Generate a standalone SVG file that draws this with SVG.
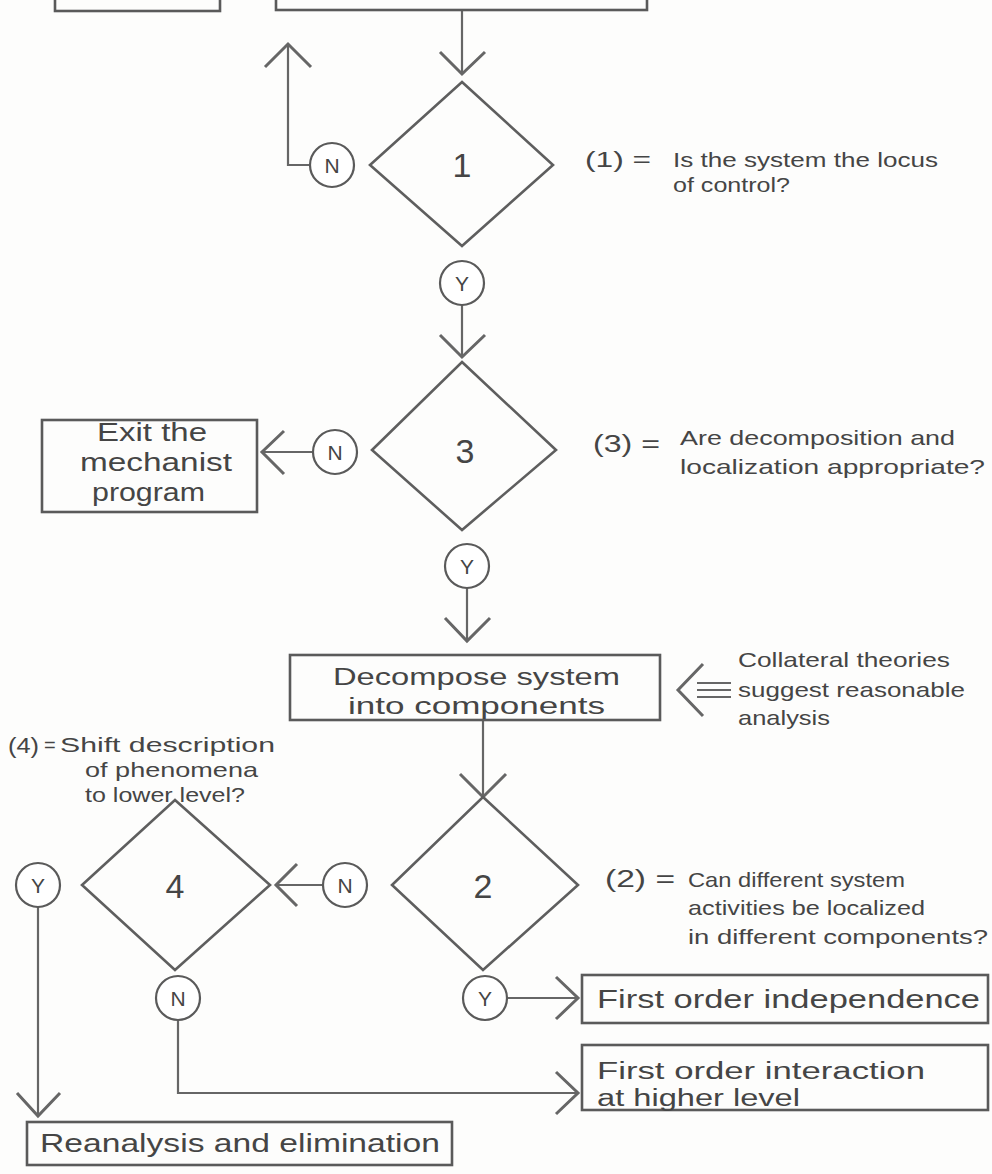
<svg xmlns="http://www.w3.org/2000/svg" width="992" height="1174" viewBox="0 0 992 1174">
<style>
.bg{fill:#fdfdfc}
.box{fill:none;stroke:#5a5a5a;stroke-width:2.6}
.dia{fill:none;stroke:#5e5e5e;stroke-width:2.6}
.circ{fill:#fff;stroke:#5a5a5a;stroke-width:2.2}
.ln{fill:none;stroke:#666;stroke-width:2.2}
.chev{fill:none;stroke:#666;stroke-width:3}
text{font-family:"Liberation Sans",Arial,sans-serif;fill:#454545}
.big{font-size:25px}
.lab{font-size:21px}
.num{font-size:34px;text-anchor:middle}
.yn{font-size:21px;text-anchor:middle}
</style>
<rect class="bg" x="0" y="0" width="992" height="1174"/>

<g id="connectors">
  <path class="ln" d="M462 11 V73"/>
  <path class="chev" d="M440 52 L462 74 L485 52"/>
  <path class="ln" d="M310 165 H288 V44"/>
  <path class="chev" d="M265 67 L288 44 L311 67"/>
  <path class="ln" d="M462 305 V356"/>
  <path class="chev" d="M440 335 L462 357 L485 335"/>
  <path class="ln" d="M313 452 H262"/>
  <path class="chev" d="M284 431 L262 452 L284 474"/>
  <path class="ln" d="M467 588 V640"/>
  <path class="chev" d="M445 618 L467 641 L490 618"/>
  <path class="chev" d="M703 664 L678 690 L703 716"/>
  <path class="ln" d="M697 683 H731 M697 690 H731 M697 697 H731"/>
  <path class="ln" d="M483 720 V795"/>
  <path class="chev" d="M460 774 L483 797 L506 774"/>
  <path class="ln" d="M323 885 H276"/>
  <path class="chev" d="M297 864 L276 885 L297 906"/>
  <path class="ln" d="M38 907 V1115"/>
  <path class="chev" d="M17 1093 L38 1116 L60 1093"/>
  <path class="ln" d="M178 1020 V1093 H577"/>
  <path class="chev" d="M556 1072 L578 1093 L556 1114"/>
  <path class="ln" d="M507 998 H577"/>
  <path class="chev" d="M556 977 L578 998 L556 1019"/>
</g>

<g id="top-left-box"><rect class="box" x="55" y="-20" width="165" height="31"/></g>
<g id="top-right-box"><rect class="box" x="276" y="-20" width="371" height="30"/></g>

<g id="diamond1">
  <polygon class="dia" points="462,82 553,165 462,246 370,165"/>
  <text class="num" x="462" y="177">1</text>
</g>
<g id="n1"><circle class="circ" cx="332" cy="165" r="22"/><text class="yn" x="332" y="173">N</text></g>
<g id="y1"><circle class="circ" cx="462" cy="283" r="22"/><text class="yn" x="462" y="291">Y</text></g>
<g id="note1">
  <text x="585" y="167" style="font-size:22px" textLength="66" lengthAdjust="spacingAndGlyphs">(1) =</text>
  <text x="673" y="167" style="font-size:20px" textLength="265" lengthAdjust="spacingAndGlyphs">Is the system the locus</text>
  <text x="673" y="192" style="font-size:20px" textLength="117" lengthAdjust="spacingAndGlyphs">of control?</text>
</g>

<g id="diamond3">
  <polygon class="dia" points="462,362 556,450 462,530 372,450"/>
  <text class="num" x="465" y="463">3</text>
</g>
<g id="n3"><circle class="circ" cx="335" cy="452" r="22"/><text class="yn" x="335" y="460">N</text></g>
<g id="y3"><circle class="circ" cx="467" cy="566" r="22"/><text class="yn" x="467" y="574">Y</text></g>
<g id="exit">
  <rect class="box" x="42" y="420" width="215" height="92"/>
  <text class="big" x="97" y="441" textLength="110" lengthAdjust="spacingAndGlyphs">Exit the</text>
  <text class="big" x="80" y="471" textLength="152" lengthAdjust="spacingAndGlyphs">mechanist</text>
  <text class="big" x="92" y="501" textLength="113" lengthAdjust="spacingAndGlyphs">program</text>
</g>
<g id="note3">
  <text x="593" y="452" style="font-size:23px" textLength="67" lengthAdjust="spacingAndGlyphs">(3) =</text>
  <text class="lab" x="680" y="445" textLength="275" lengthAdjust="spacingAndGlyphs">Are decomposition and</text>
  <text class="lab" x="680" y="474" textLength="305" lengthAdjust="spacingAndGlyphs">localization appropriate?</text>
</g>

<g id="decompose">
  <rect class="box" x="290" y="655" width="370" height="65"/>
  <text x="333" y="685" style="font-size:24px" textLength="287" lengthAdjust="spacingAndGlyphs">Decompose system</text>
  <text x="348" y="714" style="font-size:24px" textLength="257" lengthAdjust="spacingAndGlyphs">into components</text>
</g>
<g id="collateral">
  <text class="lab" x="738" y="667" textLength="212" lengthAdjust="spacingAndGlyphs">Collateral theories</text>
  <text class="lab" x="738" y="697" textLength="227" lengthAdjust="spacingAndGlyphs">suggest reasonable</text>
  <text class="lab" x="738" y="725" textLength="92" lengthAdjust="spacingAndGlyphs">analysis</text>
</g>
<g id="note4">
  <text x="8" y="753" style="font-size:22px" textLength="31" lengthAdjust="spacingAndGlyphs">(4)</text>
  <text x="44" y="752" style="font-size:20px">=</text>
  <text class="lab" x="60" y="752" textLength="215" lengthAdjust="spacingAndGlyphs">Shift description</text>
  <text class="lab" x="85" y="777" textLength="173" lengthAdjust="spacingAndGlyphs">of phenomena</text>
  <text class="lab" x="85" y="802" textLength="160" lengthAdjust="spacingAndGlyphs">to lower level?</text>
</g>

<g id="diamond2">
  <polygon class="dia" points="483,797 578,885 483,970 392,885"/>
  <text class="num" x="483" y="898">2</text>
</g>
<g id="n2"><circle class="circ" cx="345" cy="885" r="22"/><text class="yn" x="345" y="893">N</text></g>
<g id="y2"><circle class="circ" cx="485" cy="998" r="22"/><text class="yn" x="485" y="1006">Y</text></g>
<g id="note2">
  <text x="605" y="887" style="font-size:23px" textLength="70" lengthAdjust="spacingAndGlyphs">(2) =</text>
  <text class="lab" x="688" y="887" textLength="217" lengthAdjust="spacingAndGlyphs">Can different system</text>
  <text class="lab" x="688" y="915" textLength="237" lengthAdjust="spacingAndGlyphs">activities be localized</text>
  <text class="lab" x="688" y="944" textLength="300" lengthAdjust="spacingAndGlyphs">in different components?</text>
</g>

<g id="diamond4">
  <polygon class="dia" points="175,800 270,885 175,970 82,885"/>
  <text class="num" x="175" y="898">4</text>
</g>
<g id="y4"><circle class="circ" cx="38" cy="885" r="22"/><text class="yn" x="38" y="893">Y</text></g>
<g id="n4"><circle class="circ" cx="178" cy="998" r="22"/><text class="yn" x="178" y="1006">N</text></g>

<g id="independence">
  <rect class="box" x="582" y="975" width="406" height="48"/>
  <text x="597" y="1008" style="font-size:26px" textLength="383" lengthAdjust="spacingAndGlyphs">First order independence</text>
</g>
<g id="interaction">
  <rect class="box" x="582" y="1045" width="406" height="65"/>
  <text x="597" y="1079" style="font-size:23px" textLength="328" lengthAdjust="spacingAndGlyphs">First order interaction</text>
  <text x="597" y="1106" style="font-size:23px" textLength="203" lengthAdjust="spacingAndGlyphs">at higher level</text>
</g>
<g id="reanalysis">
  <rect class="box" x="27" y="1122" width="425" height="43"/>
  <text x="40" y="1152" style="font-size:26px" textLength="400" lengthAdjust="spacingAndGlyphs">Reanalysis and elimination</text>
</g>
</svg>
